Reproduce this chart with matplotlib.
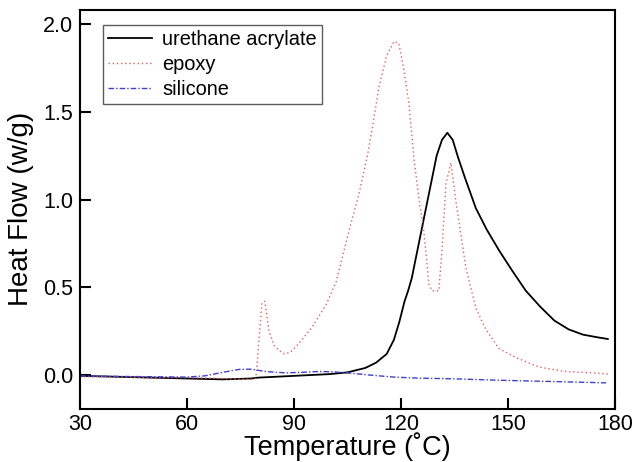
import matplotlib
matplotlib.use('Agg')
import matplotlib.pyplot as plt

plt.rcParams['font.family'] = ['Liberation Sans', 'DejaVu Sans']

#%% data
ua_t = [30, 40, 50, 60, 70, 78, 80, 90, 100, 105, 110, 113, 116, 118, 119.5, 121, 122,
        123, 124.5, 126.5, 128.5, 130, 131.5, 133, 134.5, 136, 138, 141, 144, 147.5,
        151, 155, 159, 163, 167, 171, 175, 178]
ua_v = [-0.005, -0.01, -0.015, -0.02, -0.025, -0.02, -0.015, -0.005, 0.005, 0.015, 0.04,
        0.07, 0.12, 0.2, 0.3, 0.42, 0.48, 0.55, 0.7, 0.9, 1.1, 1.25, 1.34, 1.38, 1.34,
        1.24, 1.12, 0.95, 0.83, 0.71, 0.6, 0.48, 0.39, 0.31, 0.26, 0.23, 0.215, 0.205]

ep_t = [30, 40, 50, 60, 70, 78, 79.3, 80.2, 81, 81.8, 83, 84.4, 85.8, 87.2, 89, 91.4,
        95, 99, 101.8, 105.4, 108.2, 110.5, 111.9, 113.8, 116, 118, 119.4, 120.8, 122.2,
        123.6, 125, 126.4, 127.3, 127.8, 128.7, 130.6, 131.5, 132.6, 134, 135.4, 136.8,
        138.2, 141, 143.8, 147.5, 152.2, 158.7, 166, 175.5, 178]
ep_v = [-0.01, -0.01, -0.015, -0.015, -0.02, -0.025, -0.02, 0.2, 0.41, 0.42, 0.25, 0.17,
        0.14, 0.12, 0.13, 0.18, 0.27, 0.40, 0.53, 0.82, 1.03, 1.24, 1.40, 1.64, 1.82,
        1.90, 1.89, 1.74, 1.55, 1.24, 1.01, 0.82, 0.63, 0.52, 0.48, 0.48, 0.71, 1.09,
        1.21, 0.99, 0.80, 0.61, 0.38, 0.26, 0.15, 0.10, 0.045, 0.02, 0.01, 0.005]

si_t = [30, 40, 50, 60, 65, 70, 74.6, 78, 82, 87.7, 92, 97, 101, 106, 111, 118, 125,
        135, 147.5, 160, 170, 177.5]
si_v = [-0.005, -0.008, -0.01, -0.012, -0.005, 0.015, 0.032, 0.033, 0.02, 0.012, 0.015,
        0.02, 0.018, 0.01, 0.0, -0.012, -0.018, -0.022, -0.03, -0.036, -0.041, -0.045]

#%% plot
fig = plt.figure(figsize=(6.34, 4.62), dpi=100)
ax = fig.add_axes([0.1262, 0.1158, 0.8438, 0.8626])

ax.plot(ua_t, ua_v, color='black', lw=1.3, label='urethane acrylate')
ax.plot(ep_t, ep_v, color='#e06060', lw=1.0, linestyle=(0, (1, 2)), label='epoxy')
ax.plot(si_t, si_v, color='#4040d0', lw=1.0, linestyle=(0, (4, 1.5, 1, 1.5)), label='silicone')

ax.set_xlim(30, 180)
ax.set_ylim(-0.191, 2.08)
ax.set_xticks([30, 60, 90, 120, 150, 180])
ax.set_yticks([0.0, 0.5, 1.0, 1.5, 2.0])
ax.set_yticklabels(['0.0', '0.5', '1.0', '1.5', '2.0'])
ax.tick_params(direction='in', length=8, width=1.5, labelsize=15.5)
ax.tick_params(axis='x', pad=4)
ax.tick_params(axis='y', pad=5)
for s in ax.spines.values():
    s.set_linewidth(1.5)

ax.set_xlabel('Temperature (\u02daC)', fontsize=19.5, labelpad=-2)
ax.set_ylabel('Heat Flow (w/g)', fontsize=20, labelpad=6)

leg = ax.legend(loc='upper left', fontsize=14.4, frameon=True, fancybox=False,
                edgecolor='#333333', handlelength=2.2, borderaxespad=0,
                labelspacing=0.3, borderpad=0.25, handletextpad=0.5,
                bbox_to_anchor=(0.043, 0.962))
leg.get_frame().set_linewidth(1.0)

fig.savefig('out.png', dpi=100)
